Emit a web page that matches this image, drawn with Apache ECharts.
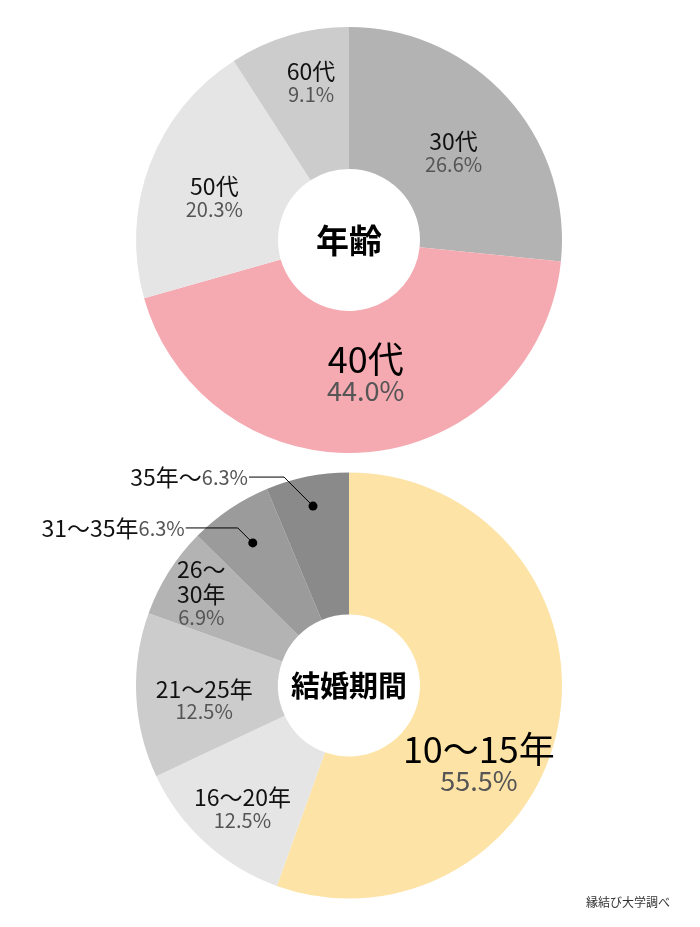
<!DOCTYPE html>
<html>
<head>
<meta charset="utf-8">
<script src="https://cdn.jsdelivr.net/npm/echarts/dist/echarts.min.js"></script>
<style>
  html, body { margin: 0; padding: 0; background: #fff; }
  #main { width: 700px; height: 927px; }
</style>
</head>
<body>
<div id="main"></div>
<script>
// 年齢
var ageNames = ['30代', '40代', '50代', '60代'];
var ageValues = [26.6, 44.0, 20.3, 9.1];
var ageColors = ['#b3b3b3', '#f5a9b1', '#e5e5e5', '#cccccc'];

// 結婚期間
var yearNames = ['10～15年', '16～20年', '21～25年', '26～\n30年', '31～35年', '35年～'];
var yearValues = [55.5, 12.5, 12.5, 6.9, 6.3, 6.3];
var yearColors = ['#fde3a5', '#e5e5e5', '#cccccc', '#b3b3b3', '#9b9b9b', '#8a8a8a'];

var FONT = '"Noto Sans CJK JP", "Noto Sans", sans-serif';
var CX = 349, CY1 = 240, CY2 = 685.5, R0 = 71, R1 = 213;

// ラベルのずらし量 [dx, dy]
var ageShift = [[-3, 9], [4, -12], [1, 8], [3, -19]];
var yearShift = [[-13, 52], [-9, 15], [0, 7], [-25, -16]];
// 外側ラベル：点の半径、斜め線、横線の長さ
var outside = { 4: { r: 172, d: 15, len: 52 }, 5: { r: 183, d: 29, len: 35 } };

function midFrac(values, i) {
  var s = 0, total = 0;
  for (var k = 0; k < values.length; k++) {
    if (k < i) s += values[k];
    total += values[k];
  }
  return (s + values[i] / 2) / total;
}

function tag(style, text) {
  return text.split('\n').map(function (t) { return '{' + style + '|' + t + '}'; }).join('\n');
}

var rich = {
  n: { fontSize: 23, color: '#111', lineHeight: 25, fontFamily: FONT },
  p: { fontSize: 20, color: '#555', lineHeight: 21, fontFamily: FONT },
  N: { fontSize: 36, color: '#000', lineHeight: 36, fontFamily: FONT },
  P: { fontSize: 27, color: '#555', lineHeight: 27, fontFamily: FONT }
};

function makeData(names, values, colors, big) {
  return names.map(function (n, i) {
    var item = { name: n, value: values[i], itemStyle: { color: colors[i] } };
    if (outside[i] && !big) {
      item.label = { position: 'outside' };
    }
    return item;
  });
}

// 引き出し線（点の位置は円グラフと同じ角度）
var leaders = [4, 5].map(function (i) {
  return [outside[i].r, midFrac(yearValues, i) * 100, i];
});

var chart = echarts.init(document.getElementById('main'));

var option = {
  animation: false,
  polar: { center: [CX, CY2], radius: R1 },
  angleAxis: { type: 'value', min: 0, max: 100, startAngle: 90, clockwise: true, show: false },
  radiusAxis: { type: 'value', min: 0, max: R1, show: false },
  graphic: [
    { type: 'text', x: CX, y: CY1, z: 100,
      style: { text: '年齢', fontSize: 33, fontWeight: 'bold', fontFamily: FONT, fill: '#000', align: 'center', verticalAlign: 'middle' } },
    { type: 'text', x: CX, y: CY2, z: 100,
      style: { text: '結婚期間', fontSize: 29, fontWeight: 'bold', fontFamily: FONT, fill: '#000', align: 'center', verticalAlign: 'middle' } },
    { type: 'text', right: 30, top: 896,
      style: { text: '縁結び大学調べ', fontSize: 12, fontFamily: FONT, fill: '#333' } }
  ],
  series: [
    {
      type: 'pie',
      center: [CX, CY1],
      radius: [R0, R1],
      startAngle: 90,
      clockwise: true,
      avoidLabelOverlap: false,
      silent: true,
      data: makeData(ageNames, ageValues, ageColors, true),
      label: {
        position: 'inside',
        formatter: function (p) {
          var v = p.value.toFixed(1) + '%';
          if (p.dataIndex === 1) return tag('N', p.name) + '\n' + tag('P', v);
          return tag('n', p.name) + '\n' + tag('p', v);
        },
        rich: rich
      },
      labelLine: { show: false },
      labelLayout: function (p) {
        var s = ageShift[p.dataIndex];
        return { dx: s[0], dy: s[1] };
      }
    },
    {
      type: 'pie',
      center: [CX, CY2],
      radius: [R0, R1],
      startAngle: 90,
      clockwise: true,
      avoidLabelOverlap: false,
      silent: true,
      data: makeData(yearNames, yearValues, yearColors, false),
      label: {
        position: 'inside',
        formatter: function (p) {
          var v = p.value.toFixed(1) + '%';
          if (outside[p.dataIndex]) return tag('n', p.name) + tag('p', v);
          if (p.dataIndex === 0) return tag('N', p.name) + '\n' + tag('P', v);
          return tag('n', p.name) + '\n' + tag('p', v);
        },
        rich: rich
      },
      labelLine: { show: false },
      labelLayout: function (p) {
        var o = outside[p.dataIndex];
        if (!o) {
          var s = yearShift[p.dataIndex];
          return { dx: s[0], dy: s[1] };
        }
        var a = midFrac(yearValues, p.dataIndex) * 2 * Math.PI;
        var x0 = CX + o.r * Math.sin(a), y0 = CY2 - o.r * Math.cos(a);
        return { x: x0 - o.d - o.len - 1, y: y0 - o.d, align: 'right', verticalAlign: 'middle' };
      }
    },
    {
      type: 'custom',
      coordinateSystem: 'polar',
      silent: true,
      z: 5,
      data: leaders,
      renderItem: function (params, api) {
        var o = outside[api.value(2)];
        var pt = api.coord([api.value(0), api.value(1)]);
        var x1 = pt[0] - o.d, y1 = pt[1] - o.d;
        return {
          type: 'group',
          children: [
            { type: 'polyline',
              shape: { points: [[pt[0], pt[1]], [x1, y1], [x1 - o.len, y1]] },
              style: { stroke: '#000', lineWidth: 1, fill: 'none' } },
            { type: 'circle',
              shape: { cx: pt[0], cy: pt[1], r: 4.5 },
              style: { fill: '#000' } }
          ]
        };
      }
    }
  ]
};
chart.setOption(option);
</script>
</body>
</html>
